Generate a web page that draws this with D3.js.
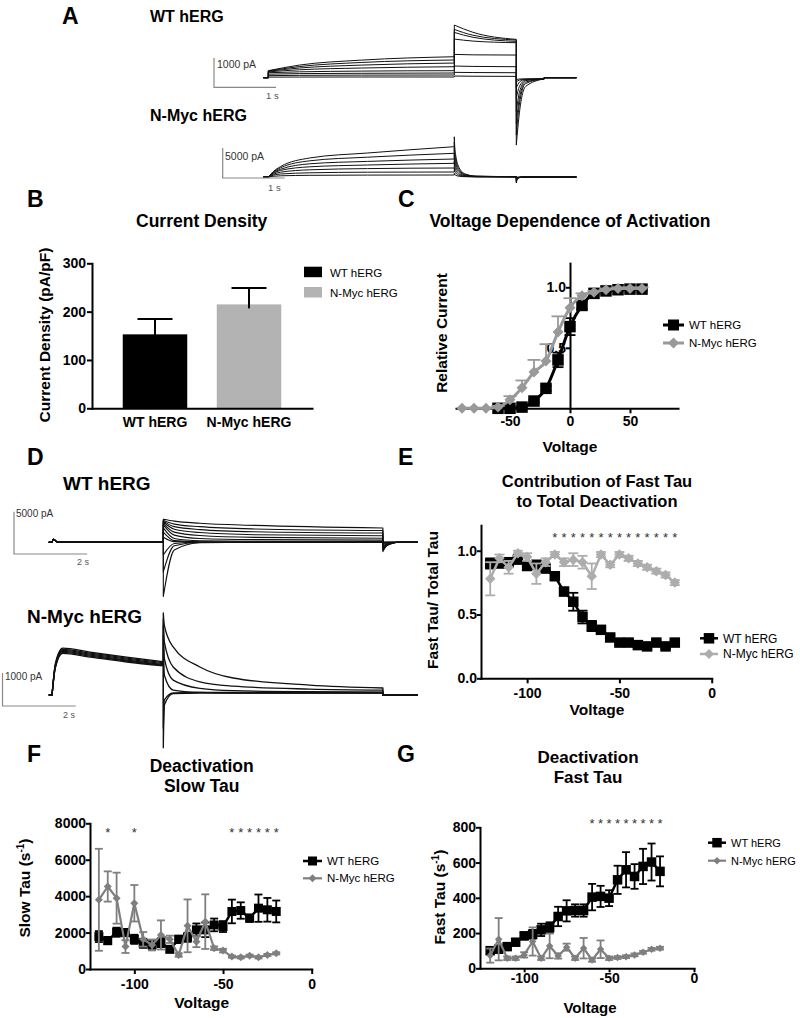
<!DOCTYPE html>
<html><head><meta charset="utf-8">
<script src="https://cdn.jsdelivr.net/npm/d3@7"></script>
<style>body{margin:0;background:#fff}svg{display:block}</style>
</head><body>
<svg id="fig" width="800" height="1018"></svg>
<script>
// ================= DATA =================
// Panel A – WT hERG sweeps (pA) at keypoint times (s)
const aWTSegT = [[-0.08, 0], [0, 0.5, 1.5, 3], [3, 3.3, 4], [4, 4.05, 4.15, 4.45], [4.45, 4.97]];
const aWTAct = [[240,430,600,716],[230,380,520,604],[220,330,430,500],[200,270,330,375],[170,200,225,239],[120,140,150,160],[70,80,88,92],[20,22,24,24]];
const aWTTail = [[1796,1550,1308],[1648,1450,1285],[1546,1380,1239],[1319,1250,1194],[796,780,773],[398,385,375],[182,176,170],[57,50,45]];
const aWTDeact = [[-2300,-1200,-300,-40],[-1950,-900,-200,-40],[-1560,-700,-150,-40],[-1150,-500,-100,-40],[-700,-300,-80,-40],[-350,-150,-60,-40],[-150,-80,-50,-40],[-60,-45,-40,-40]];
// Panel A – N-Myc hERG sweeps
const aNMSegT = [[-0.08, 0], [0, 0.08, 0.2, 0.67, 1.6, 3], [3, 3.006, 3.02, 3.08, 3.18, 3.35, 4], [4, 4.02, 4.1, 4.97]];
const aNMAct = [[0,900,1750,3170,4000,5050],[0,800,1550,2700,3300,3950],[0,700,1300,2200,2600,3000],[0,600,1100,1700,2000,2280],[0,450,800,1200,1400,1500],[0,300,500,700,800,833],[0,120,200,280,320,333]];
const aNMTail = [[6700,5200,3800,1500,500,150,60],[5800,4500,3100,1200,400,120,50],[4800,3700,2400,950,300,100,40],[3800,2900,1800,700,220,80,30],[2600,2000,1200,450,150,60,20],[1500,1100,700,250,90,40,15],[600,450,300,120,50,20,10]];
const aNMDeact = [[-1000,-300,0,0],[-850,-250,0,0],[-700,-200,0,0],[-550,-150,0,0],[-400,-100,0,0],[-250,-60,0,0],[-100,-30,0,0]];
// Panel D – WT hERG sweeps
const dWTSegT = [[-3.13, -3.04], [-3.04, -3.0, -2.9, 0], [0, 0.3, 1, 2.5, 6], [6, 6.1, 6.4], [6.4, 6.95]];
const dWTPre = [0, 350, 50, 50];
const dWTTail = [[2720,2500,2250,2000,1690],[2600,2150,1850,1580,1400],[2500,1850,1500,1250,1100],[2400,1550,1150,900,780],[2250,1200,800,580,480],[2050,850,450,320,260],[1700,450,180,120,100],[1200,200,60,40,30],[600,80,20,10,10],[-1500,-150,0,0,0],[-3500,-400,-20,0,0],[-6400,-900,-60,0,0]];
const dWTNotch = [[-1100,-450,0],[-950,-400,0],[-800,-330,0],[-650,-270,0],[-480,-200,0],[-300,-120,0],[-150,-60,0],[-60,-20,0],[-20,-5,0],[0,0,0],[0,0,0],[0,0,0]];
// Panel D – N-Myc hERG sweeps
const dNMSegT = [[-3.13, -3.04], [-3.04, -2.95, -2.75, -2, -1, 0], [0, 0.03, 0.27, 1, 1.91, 4, 6], [6, 6.95]];
const dNMPre = [[0,950,1420,1300,1150,1010],[0,900,1380,1270,1120,980],[0,880,1350,1240,1090,950],[0,860,1320,1210,1060,920],[0,840,1290,1180,1030,900],[0,820,1260,1150,1000,880]];
const dNMTail = [[2485,2100,1455,850,515,300,212],[2300,1600,850,400,270,180,150],[2100,1100,450,200,130,100,90],[1800,600,150,80,60,60,60],[-1600,-300,40,60,60,60,60],[-1000,-150,60,80,80,80,80]];

// Panel B
const bCategories = ["WT hERG", "N-Myc hERG"];
const bMeans = [153, 215];
const bErrors = [32, 34];
const bTicks = [0, 100, 200, 300];

// Panel C
const cWTVolt = [-60,-50,-40,-30,-20,-10,0,10,20,30,40,50,60];
const cWTRel  = [0,0,0.01,0.06,0.165,0.40,0.675,0.85,0.95,0.97,0.98,0.985,0.985];
const cWTErr  = [0,0,0.01,0.01,0.02,0.06,0.07,0.03,0.01,0.01,0.01,0.01,0.01];
const cNMVolt = [-90,-80,-70,-60,-50,-40,-30,-20,-10,0,10,20,30,40,50,60];
const cNMRel  = [0,0,0,0.01,0.07,0.17,0.30,0.39,0.63,0.83,0.93,0.96,0.98,0.99,0.99,0.99];
const cNMErr  = [0,0,0,0.01,0.03,0.06,0.10,0.14,0.13,0.08,0.02,0.01,0.01,0.01,0.01,0.01];
const cXTicks = [-50, 0, 50];
const cYTicks = [0.5, 1.0];

// Panels E, F, G share voltages
const tauVolts = [-120,-115,-110,-105,-100,-95,-90,-85,-80,-75,-70,-65,-60,-55,-50,-45,-40,-35,-30,-25,-20];
const eWT    = [0.90,0.90,0.91,0.93,0.88,0.89,0.86,0.80,0.68,0.60,0.48,0.41,0.38,0.32,0.28,0.28,0.26,0.25,0.28,0.25,0.28];
const eWTErr = [0.04,0.03,0.03,0.02,0.02,0.02,0.02,0.02,0.03,0.07,0.05,0.04,0.03,0.02,0.02,0.02,0.02,0.02,0.02,0.02,0.02];
const eNM    = [0.78,0.94,0.87,0.98,0.95,0.82,0.91,0.97,0.91,0.93,0.91,0.80,0.97,0.89,0.97,0.94,0.90,0.87,0.84,0.81,0.75];
const eNMErr = [0.13,0.03,0.05,0.02,0.03,0.08,0.03,0.02,0.03,0.05,0.05,0.10,0.02,0.02,0.02,0.02,0.02,0.02,0.02,0.02,0.02];
const eStars = [-85,-80,-75,-70,-65,-60,-55,-50,-45,-40,-35,-30,-25,-20];
const eYTicks = [0, 0.5, 1.0];

const fWT    = [1780,1560,2020,2000,1630,1410,1320,1450,1080,1630,1740,2150,2150,2420,2330,3160,3210,2790,3340,3250,3160];
const fWTErr = [300,200,250,200,250,250,200,250,150,200,250,350,400,350,300,650,450,200,750,650,600];
const fNM    = [3800,4530,3890,1230,3610,1630,1320,1870,1630,770,2370,1500,2600,1140,1010,680,640,730,640,770,860];
const fNMErr = [2800,830,1400,350,1000,400,300,800,200,100,1450,300,1500,100,100,60,60,60,60,60,60];
const fStars = [-115,-100,-45,-40,-35,-30,-25,-20];
const fYTicks = [0, 2000, 4000, 6000, 8000];

const gWT    = [100,108,123,148,184,193,218,231,294,326,328,328,404,408,398,502,559,521,578,603,550];
const gWTErr = [20,20,15,15,20,25,35,30,55,60,35,35,75,60,45,80,100,70,100,105,85];
const gNM    = [72,165,57,57,76,152,57,127,70,120,57,114,47,108,57,61,66,76,91,108,114];
const gNMErr = [40,120,10,10,15,80,10,70,15,20,10,58,10,50,10,8,8,8,8,8,8];
const gStars = [-60,-55,-50,-45,-40,-35,-30,-25,-20];
const gYTicks = [0, 200, 400, 600, 800];
const voltTicks = [-100, -50, 0];

// ================= DRAWING =================
const FONT = "'Liberation Sans', Arial, Helvetica, sans-serif";
const svg = d3.select("#fig").attr("font-family", FONT);

function label(x, y, s, size, o = {}) {
  return svg.append("text").attr("x", x).attr("y", y).attr("font-size", size)
    .attr("font-weight", o.w || "bold").attr("text-anchor", o.a || "start")
    .attr("fill", o.c || "#000").text(s);
}
function vlabel(cx, cy, s, size, sup) {
  const t = svg.append("text").attr("transform", `translate(${cx},${cy}) rotate(-90)`)
    .attr("text-anchor", "middle").attr("dy", "0.35em").attr("font-size", size).attr("font-weight", "bold");
  if (sup) {
    t.append("tspan").text(s[0]);
    t.append("tspan").attr("font-size", size * 0.65).attr("dy", -size * 0.4).text(sup);
    t.append("tspan").attr("dy", size * 0.4).text(s[1]);
  } else t.text(s);
  return t;
}
function styleAxis(g, size = 14) {
  g.attr("font-family", FONT);
  g.select(".domain").attr("stroke", "#000").attr("stroke-width", 2).attr("stroke-linecap", "square");
  g.selectAll(".tick line").attr("stroke", "#000").attr("stroke-width", 2);
  g.selectAll(".tick text").attr("font-size", size).attr("font-weight", "bold").attr("fill", "#000");
}
function marker(g, type, x, y, size, color) {
  if (type === "square") {
    g.append("rect").attr("x", x - size / 2).attr("y", y - size / 2).attr("width", size).attr("height", size).attr("fill", color);
  } else {
    const r = size / 2;
    g.append("path").attr("d", `M${x},${y - r}L${x + r},${y}L${x},${y + r}L${x - r},${y}Z`).attr("fill", color);
  }
}
function drawSeries(xs, ys, s) {
  const g = svg.append("g");
  const pts = s.x.map((v, i) => [xs(v), ys(s.y[i]), s.e ? s.e[i] : 0, s.y[i]]);
  const eg = g.append("g").attr("stroke", s.color).attr("stroke-width", s.ew || 1.8).attr("fill", "none");
  pts.forEach(([px, py, e, v]) => {
    if (!e) return;
    const top = ys(v + e), bot = ys(v - e), hw = s.cap / 2;
    eg.append("line").attr("x1", px).attr("x2", px)
      .attr("y1", s.dir === "up" ? py : bot).attr("y2", s.dir === "down" ? py : top);
    if (s.dir !== "down") eg.append("line").attr("x1", px - hw).attr("x2", px + hw).attr("y1", top).attr("y2", top);
    if (s.dir !== "up") eg.append("line").attr("x1", px - hw).attr("x2", px + hw).attr("y1", bot).attr("y2", bot);
  });
  g.append("path").attr("d", d3.line().curve(s.curve || d3.curveLinear)(pts.map(p => [p[0], p[1]])))
    .attr("fill", "none").attr("stroke", s.color).attr("stroke-width", s.lw).attr("stroke-linejoin", "round");
  pts.forEach(p => marker(g, s.marker, p[0], p[1], s.ms, s.color));
}
function legendRow(x, y, len, type, ms, color, lw, text, size) {
  const g = svg.append("g");
  g.append("line").attr("x1", x).attr("x2", x + len).attr("y1", y).attr("y2", y).attr("stroke", color).attr("stroke-width", lw);
  marker(g, type, x + len / 2, y, ms, color);
  label(x + len + 5, y + size * 0.36, text, size, { w: "normal" });
}
function stars(xs, y, volts) {
  volts.forEach(v => label(xs(v), y, "*", 13, { w: "normal", a: "middle", c: "#333" }));
}
function drawTraces(segT, sweeps, xs, ys, lw) {
  const g = svg.append("g").attr("fill", "none").attr("stroke", "#111").attr("stroke-width", lw).attr("stroke-linejoin", "round");
  const line = d3.line().x(d => xs(d[0])).y(d => ys(d[1])).curve(d3.curveMonotoneX);
  sweeps.forEach(sw => {
    let d = "";
    sw.forEach((vals, si) => {
      const p = line(segT[si].map((t, i) => [t, vals[i]]));
      d += si === 0 ? p : "L" + p.slice(1);
    });
    g.append("path").attr("d", d);
  });
}
function scaleBar(x0, y0, w, h, vText, hText, vtPos, htPos, size) {
  svg.append("path").attr("d", `M${x0},${y0 - h}V${y0}H${x0 + w}`).attr("fill", "none").attr("stroke", "#888").attr("stroke-width", 1.2);
  label(vtPos[0], vtPos[1], vText, size, { w: "normal", c: "#333" });
  label(htPos[0], htPos[1], hText, size - 1, { w: "normal", c: "#555" });
}

// ---------- panel letters
[["A", 62, 24], ["B", 27, 207], ["C", 398, 207], ["D", 27, 465], ["E", 398, 465], ["F", 27, 762], ["G", 397, 762]]
  .forEach(([s, x, y]) => label(x, y, s, 23));

// ---------- Panel A
label(150, 22, "WT hERG", 16);
label(150, 121, "N-Myc hERG", 16);
const aX = d3.scaleLinear().domain([0, 1]).range([268.3, 330.3]);
const aWTY = d3.scaleLinear().domain([0, 1000]).range([77.7, 48.4]);
const aNMY = d3.scaleLinear().domain([0, 5000]).range([177, 147]);
drawTraces(aWTSegT, aWTAct.map((a, i) => [[0, 0], a, aWTTail[i], aWTDeact[i], [0, 0]]), aX, aWTY, 1);
drawTraces(aNMSegT, aNMAct.map((a, i) => [[0, 0], a, aNMTail[i], aNMDeact[i]]), aX, aNMY, 1);
scaleBar(214, 87.3, aX(1) - aX(0), aWTY(0) - aWTY(1000), "1000 pA", "1 s", [217, 68], [266, 99], 10.5);
scaleBar(222.7, 178, aX(1) - aX(0), aNMY(0) - aNMY(5000), "5000 pA", "1 s", [225, 160], [268, 191], 10.5);

// ---------- Panel B
{
  const bx = d3.scaleBand().domain(bCategories).range([92, 312]).paddingInner(0.314).paddingOuter(0.327);
  const by = d3.scaleLinear().domain([0, 300]).range([408.3, 263.3]);
  const colors = ["#000", "#b3b3b3"];
  const g = svg.append("g");
  bCategories.forEach((c, i) => {
    g.append("rect").attr("x", bx(c)).attr("y", by(bMeans[i])).attr("width", bx.bandwidth())
      .attr("height", by(0) - by(bMeans[i])).attr("fill", colors[i]);
    const cxm = bx(c) + bx.bandwidth() / 2;
    g.append("line").attr("x1", cxm).attr("x2", cxm).attr("y1", by(bMeans[i]) + 4).attr("y2", by(bMeans[i] + bErrors[i])).attr("stroke", "#000").attr("stroke-width", 2);
    g.append("line").attr("x1", cxm - 17.5).attr("x2", cxm + 17.5).attr("y1", by(bMeans[i] + bErrors[i])).attr("y2", by(bMeans[i] + bErrors[i])).attr("stroke", "#000").attr("stroke-width", 2);
  });
  styleAxis(svg.append("g").attr("transform", "translate(92,0)").call(d3.axisLeft(by).tickValues(bTicks).tickSize(5).tickPadding(1).tickSizeOuter(0)));
  styleAxis(svg.append("g").attr("transform", `translate(0,${by(0)})`).call(d3.axisBottom(bx).tickSize(0).tickPadding(9)));
  label(201.7, 227, "Current Density", 17.5, { a: "middle" });
  vlabel(45, 335, "Current Density (pA/pF)", 15.5);
  svg.append("rect").attr("x", 304).attr("y", 266.7).attr("width", 18).attr("height", 10.5).attr("fill", colors[0]);
  svg.append("rect").attr("x", 304).attr("y", 287).attr("width", 18).attr("height", 10.5).attr("fill", colors[1]);
  label(330, 276.5, bCategories[0], 11.5, { w: "normal" });
  label(330, 297, bCategories[1], 11.5, { w: "normal" });
}

// ---------- Panel C
{
  const cx = d3.scaleLinear().domain([-95, 90]).range([456, 678]);
  const cy = d3.scaleLinear().domain([0, 1.2]).range([408.3, 263.1]);
  styleAxis(svg.append("g").attr("transform", `translate(0,${cy(0)})`).call(d3.axisBottom(cx).tickValues(cXTicks).tickSize(5).tickPadding(3).tickSizeOuter(0).tickFormat(d => String(d))));
  styleAxis(svg.append("g").attr("transform", `translate(${cx(0)},0)`).call(d3.axisLeft(cy).tickValues(cYTicks).tickSize(4).tickPadding(0).tickSizeOuter(0).tickFormat(d3.format(".1f"))));
  drawSeries(cx, cy, { x: cWTVolt, y: cWTRel, e: cWTErr, color: "#000", lw: 3, marker: "square", ms: 11.5, cap: 11, dir: "both", curve: d3.curveMonotoneX });
  drawSeries(cx, cy, { x: cNMVolt, y: cNMRel, e: cNMErr, color: "#999", lw: 3, marker: "diamond", ms: 11, cap: 13, dir: "up", curve: d3.curveMonotoneX });
  label(570, 226.7, "Voltage Dependence of Activation", 17.5, { a: "middle" });
  vlabel(441.7, 333, "Relative Current", 15.5);
  label(570, 452, "Voltage", 15.5, { a: "middle" });
  legendRow(663, 325, 21, "square", 11, "#000", 3, "WT hERG", 11.5);
  legendRow(663, 343, 21, "diamond", 11, "#999", 3, "N-Myc hERG", 11.5);
}

// ---------- Panel D
label(63, 490, "WT hERG", 19);
label(27, 623, "N-Myc hERG", 19);
const dX = d3.scaleLinear().domain([0, 2]).range([163.3, 236.5]);
const dWTY = d3.scaleLinear().domain([0, 5000]).range([542.3, 500]);
const dNMY = d3.scaleLinear().domain([0, 1000]).range([695, 662]);
drawTraces(dWTSegT, dWTTail.map((t, i) => [[0, 0], dWTPre, t, dWTNotch[i], [0, 0]]), dX, dWTY, 1.1);
drawTraces(dNMSegT, dNMPre.map((p, i) => [[0, 0], p, dNMTail[i], [0, 0]]), dX, dNMY, 1.3);
scaleBar(14, 554, dX(2) - dX(0), dWTY(0) - dWTY(5000), "5000 pA", "2 s", [16, 517], [77, 565], 10);
scaleBar(2.5, 706, dX(2) - dX(0), dNMY(0) - dNMY(1000), "1000 pA", "2 s", [5, 680], [63, 718], 10);

// ---------- Panel E
{
  const ex = d3.scaleLinear().domain([-125, 0]).range([481, 711.7]);
  const ey = d3.scaleLinear().domain([0, 1.2]).range([678.3, 525.2]);
  styleAxis(svg.append("g").attr("transform", `translate(0,${ey(0)})`).call(d3.axisBottom(ex).tickValues(voltTicks).tickSize(5).tickPadding(5).tickSizeOuter(0).tickFormat(d => String(d))));
  styleAxis(svg.append("g").attr("transform", `translate(${ex(-125)},0)`).call(d3.axisLeft(ey).tickValues(eYTicks).tickSize(4).tickPadding(0).tickSizeOuter(0).tickFormat(d3.format(".1f"))));
  drawSeries(ex, ey, { x: tauVolts, y: eWT, e: eWTErr, color: "#000", lw: 2.5, marker: "square", ms: 10.5, cap: 10, dir: "both" });
  drawSeries(ex, ey, { x: tauVolts, y: eNM, e: eNMErr, color: "#adadad", lw: 2.5, marker: "diamond", ms: 10.5, cap: 10, dir: "both" });
  stars(ex, 542, eStars);
  label(597, 487, "Contribution of Fast Tau", 16.5, { a: "middle" });
  label(597, 507, "to Total Deactivation", 16.5, { a: "middle" });
  vlabel(433, 600, "Fast Tau/ Total Tau", 15.5);
  label(597, 715, "Voltage", 15.5, { a: "middle" });
  legendRow(700, 638.3, 18, "square", 10.5, "#000", 2.5, "WT hERG", 12);
  legendRow(700, 654, 18, "diamond", 10, "#adadad", 2.5, "N-Myc hERG", 12);
}

// ---------- Panel F
{
  const fx = d3.scaleLinear().domain([-125, 0]).range([90, 311.7]);
  const fy = d3.scaleLinear().domain([0, 8000]).range([969, 823.3]);
  styleAxis(svg.append("g").attr("transform", `translate(0,${fy(0)})`).call(d3.axisBottom(fx).tickValues(voltTicks).tickSize(5).tickPadding(5).tickSizeOuter(0).tickFormat(d => String(d))));
  styleAxis(svg.append("g").attr("transform", `translate(${fx(-125)},0)`).call(d3.axisLeft(fy).tickValues(fYTicks).tickSize(4).tickPadding(0).tickSizeOuter(0).tickFormat(d => String(d))));
  drawSeries(fx, fy, { x: tauVolts, y: fWT, e: fWTErr, color: "#000", lw: 2.5, marker: "square", ms: 9, cap: 8, dir: "both" });
  drawSeries(fx, fy, { x: tauVolts, y: fNM, e: fNMErr, color: "#7f7f7f", lw: 2.2, marker: "diamond", ms: 8, cap: 8, dir: "both" });
  stars(fx, 837, fStars);
  label(201.7, 772, "Deactivation", 17.5, { a: "middle" });
  label(201.7, 792, "Slow Tau", 17.5, { a: "middle" });
  vlabel(25, 888, ["Slow Tau (s", ")"], 15.5, "-1");
  label(201.7, 1008, "Voltage", 15.5, { a: "middle" });
  legendRow(303, 861, 19, "square", 9, "#000", 2.5, "WT hERG", 11.5);
  legendRow(303, 878.3, 19, "diamond", 8, "#7f7f7f", 2.2, "N-Myc hERG", 11.5);
}

// ---------- Panel G
{
  const gx = d3.scaleLinear().domain([-126, 0]).range([480, 694]);
  const gy = d3.scaleLinear().domain([0, 800]).range([968.3, 827.3]);
  styleAxis(svg.append("g").attr("transform", `translate(0,${gy(0)})`).call(d3.axisBottom(gx).tickValues(voltTicks).tickSize(4).tickPadding(1).tickSizeOuter(0).tickFormat(d => String(d))));
  styleAxis(svg.append("g").attr("transform", `translate(${gx(-126)},0)`).call(d3.axisLeft(gy).tickValues(gYTicks).tickSize(4).tickPadding(0).tickSizeOuter(0).tickFormat(d => String(d))));
  drawSeries(gx, gy, { x: tauVolts, y: gWT, e: gWTErr, color: "#000", lw: 2.5, marker: "square", ms: 9.5, cap: 8, dir: "both" });
  drawSeries(gx, gy, { x: tauVolts, y: gNM, e: gNMErr, color: "#7f7f7f", lw: 2.2, marker: "diamond", ms: 7.5, cap: 8, dir: "both" });
  stars(gx, 828, gStars);
  label(588, 763, "Deactivation", 17, { a: "middle" });
  label(588, 783, "Fast Tau", 17, { a: "middle" });
  vlabel(440, 897, ["Fast Tau (s", ")"], 15.5, "-1");
  label(590, 1013, "Voltage", 15, { a: "middle" });
  legendRow(708, 842.7, 18, "square", 9.5, "#000", 2.5, "WT hERG", 11);
  legendRow(708, 860.7, 18, "diamond", 7.5, "#7f7f7f", 2.2, "N-Myc hERG", 11);
}
</script>
</body></html>
